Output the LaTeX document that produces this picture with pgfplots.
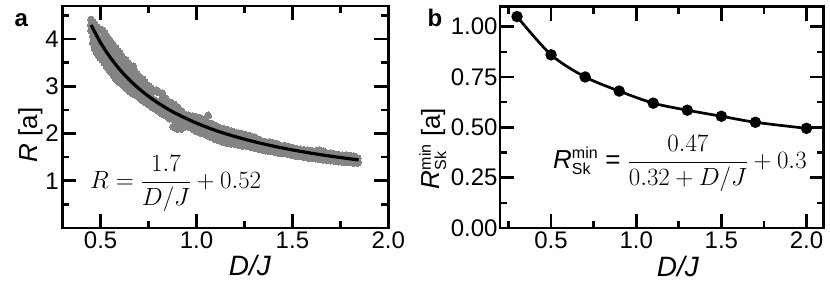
\documentclass[border=0pt]{standalone}
\usepackage{fontspec}
\setmainfont{Liberation Sans}
\usepackage{pgfplots}
\pgfplotsset{compat=1.18}
\definecolor{dotgray}{RGB}{132,132,132}
\pgfplotsset{
  myaxis/.style={
    scale only axis, anchor=south west, clip mode=individual,
    axis line style={line width=2.8pt},
    tick align=inside,
    major tick length=14pt, minor tick length=7pt,
    every tick/.style={line width=2.6pt, black},
    tick label style={font=\fontsize{24}{24}\selectfont},
    xlabel style={font=\fontsize{28}{28}\selectfont, anchor=base, inner sep=0pt},
    ylabel style={font=\fontsize{26}{26}\selectfont, anchor=base, inner sep=0pt},
  }
}
\begin{document}
\begin{tikzpicture}
\useasboundingbox (0pt,0pt) rectangle (830pt,282pt);
% ---------------- panel a
\begin{axis}[myaxis,
  at={(62.3pt,54pt)}, width=326pt, height=222pt,
  xmin=0.3, xmax=2.0, ymin=0, ymax=4.7,
  xtick={0.5,1,1.5,2}, xticklabels={0.5,1.0,1.5,2.0},
  minor xtick={0.75,1.25,1.75},
  ytick={1,2,3,4}, yticklabels={1,2,3,4},
  minor ytick={0.5,1.5,2.5,3.5,4.5},
  xlabel={\textit{D/J}},
  xlabel style={at={(axis description cs:0.576,-0.216)}},
  ylabel={\textit{R} [a]},
  ylabel style={at={(axis description cs:-0.0776,0.419)}},
]
\addplot[color=dotgray, only marks, mark=*, mark size=3.6pt, mark options={draw=dotgray, fill=dotgray, line width=0pt}] coordinates {
(0.45,4.41)(0.45,4.30)(0.45,4.18)
(0.46,4.36)(0.46,4.22)(0.46,4.06)(0.46,3.92)
(0.47,4.30)(0.47,4.14)(0.47,3.98)(0.47,3.80)
(0.48,4.25)(0.48,4.08)(0.48,3.90)(0.48,3.72)
(0.49,4.22)(0.49,4.02)(0.49,3.83)(0.49,3.66)
(0.50,4.20)(0.50,3.98)(0.50,3.78)(0.50,3.60)
(0.51,4.18)(0.51,3.95)(0.51,3.72)(0.51,3.56)
(0.52,4.12)(0.52,3.88)(0.52,3.68)(0.52,3.50)
(0.53,4.06)(0.53,3.84)(0.53,3.62)(0.53,3.44)
(0.54,4.00)(0.54,3.80)(0.54,3.56)(0.54,3.38)
(0.55,3.95)(0.55,3.72)(0.55,3.50)(0.55,3.32)
(0.56,3.90)(0.56,3.66)(0.56,3.45)(0.56,3.28)
(0.57,3.84)(0.57,3.62)(0.57,3.40)(0.57,3.22)
(0.58,3.80)(0.58,3.56)(0.58,3.35)(0.58,3.16)
(0.59,3.74)(0.59,3.50)(0.59,3.30)(0.59,3.12)
(0.60,3.70)(0.60,3.46)(0.60,3.24)(0.60,3.08)
(0.61,3.62)(0.61,3.42)(0.61,3.20)(0.61,3.05)
(0.62,3.58)(0.62,3.38)(0.62,3.16)(0.62,3.02)
(0.63,3.55)(0.63,3.33)(0.63,3.12)(0.63,2.98)
(0.64,3.50)(0.64,3.28)(0.64,3.08)(0.64,2.95)
(0.65,3.45)(0.65,3.24)(0.65,3.04)(0.65,2.90)
(0.66,3.40)(0.66,3.24)(0.66,3.06)(0.66,2.88)
(0.67,3.42)(0.67,3.20)(0.67,3.02)(0.67,2.85)
(0.68,3.30)(0.68,3.14)(0.68,2.98)(0.68,2.82)
(0.69,3.25)(0.69,3.10)(0.69,2.95)(0.69,2.80)
(0.70,3.20)(0.70,3.05)(0.70,2.92)(0.70,2.78)
(0.71,3.15)(0.71,3.00)(0.71,2.87)(0.71,2.74)
(0.72,3.15)(0.72,2.98)(0.72,2.84)(0.72,2.70)
(0.73,3.08)(0.73,2.88)(0.73,2.68)
(0.74,3.02)(0.74,2.84)(0.74,2.65)
(0.75,3.00)(0.75,2.80)(0.75,2.62)
(0.76,2.96)(0.76,2.78)(0.76,2.60)
(0.77,2.92)(0.77,2.74)(0.77,2.56)
(0.78,2.90)(0.78,2.70)(0.78,2.54)
(0.79,2.92)(0.79,2.68)(0.79,2.52)
(0.80,2.88)(0.80,2.66)(0.80,2.48)
(0.82,2.85)(0.82,2.70)(0.82,2.56)(0.82,2.42)
(0.84,2.74)(0.84,2.61)(0.84,2.49)(0.84,2.38)
(0.86,2.66)(0.86,2.54)(0.86,2.43)(0.86,2.32)
(0.88,2.62)(0.88,2.46)(0.88,2.30)(0.88,2.14)
(0.90,2.56)(0.90,2.42)(0.90,2.26)(0.90,2.10)
(0.92,2.48)(0.92,2.36)(0.92,2.22)(0.92,2.10)
(0.94,2.40)(0.94,2.28)(0.94,2.15)
(0.96,2.38)(0.96,2.25)(0.96,2.14)
(0.98,2.36)(0.98,2.22)(0.98,2.10)
(1.00,2.34)(1.00,2.20)(1.00,2.05)
(1.02,2.32)(1.02,2.18)(1.02,2.02)
(1.04,2.30)(1.04,2.15)(1.04,2.00)
(1.06,2.38)(1.06,2.22)(1.06,2.10)(1.06,1.96)
(1.08,2.20)(1.08,2.06)(1.08,1.92)
(1.10,2.16)(1.10,2.02)(1.10,1.88)
(1.12,2.12)(1.12,1.98)(1.12,1.85)
(1.14,2.10)(1.14,1.96)(1.14,1.82)
(1.16,2.08)(1.16,1.94)(1.16,1.80)
(1.18,2.05)(1.18,1.92)(1.18,1.79)
(1.20,2.02)(1.20,1.90)(1.20,1.78)
(1.22,2.00)(1.22,1.88)(1.22,1.76)
(1.24,1.98)(1.24,1.85)(1.24,1.74)
(1.26,1.96)(1.26,1.84)(1.26,1.74)
(1.28,1.95)(1.28,1.82)(1.28,1.72)
(1.30,1.92)(1.30,1.80)(1.30,1.70)
(1.32,1.88)(1.32,1.78)(1.32,1.68)
(1.34,1.84)(1.34,1.74)(1.34,1.66)
(1.36,1.82)(1.36,1.72)(1.36,1.64)
(1.38,1.82)(1.38,1.70)(1.38,1.63)
(1.40,1.80)(1.40,1.69)(1.40,1.62)
(1.42,1.78)(1.42,1.68)(1.42,1.60)
(1.44,1.74)(1.44,1.64)(1.44,1.58)
(1.46,1.74)(1.46,1.62)(1.46,1.58)
(1.48,1.72)(1.48,1.61)(1.48,1.56)
(1.50,1.70)(1.50,1.60)(1.50,1.54)
(1.52,1.68)(1.52,1.58)(1.52,1.52)
(1.54,1.66)(1.54,1.56)(1.54,1.52)
(1.56,1.65)(1.56,1.55)(1.56,1.50)
(1.58,1.64)(1.58,1.54)(1.58,1.49)
(1.60,1.63)(1.60,1.53)(1.60,1.48)
(1.62,1.62)(1.62,1.52)(1.62,1.47)
(1.64,1.64)(1.64,1.50)(1.64,1.46)
(1.66,1.62)(1.66,1.50)(1.66,1.45)
(1.68,1.58)(1.68,1.48)(1.68,1.44)
(1.70,1.58)(1.70,1.47)(1.70,1.43)
(1.72,1.56)(1.72,1.46)(1.72,1.42)
(1.74,1.55)(1.74,1.45)(1.74,1.41)
(1.76,1.54)(1.76,1.44)(1.76,1.40)
(1.78,1.54)(1.78,1.43)(1.78,1.40)
(1.80,1.53)(1.80,1.42)(1.80,1.39)
(1.82,1.52)(1.82,1.42)(1.82,1.38)
(1.84,1.48)(1.84,1.40)(1.84,1.38)
};
\addplot[black, line width=3.2pt, smooth, no marks] coordinates {
(0.45,4.298)(0.50,3.920)(0.55,3.611)(0.60,3.353)(0.65,3.135)(0.70,2.949)
(0.75,2.787)(0.80,2.645)(0.85,2.520)(0.90,2.409)(1.00,2.220)(1.10,2.065)
(1.20,1.937)(1.30,1.828)(1.40,1.734)(1.50,1.653)(1.60,1.583)(1.70,1.520)(1.845,1.441)
};
\end{axis}
% ---------------- panel b
\begin{axis}[myaxis,
  at={(500pt,54pt)}, width=323.5pt, height=221.5pt,
  xmin=0.2, xmax=2.1, ymin=0, ymax=1.1,
  xtick={0.5,1,1.5,2}, xticklabels={0.5,1.0,1.5,2.0},
  minor xtick={0.25,0.75,1.25,1.75},
  ytick={0,0.25,0.5,0.75,1}, yticklabels={0.00,0.25,0.50,0.75,1.00},
  minor ytick={0.125,0.375,0.625,0.875},
  yticklabel style={inner xsep=2.3pt},
  xlabel={\textit{D/J}},
  xlabel style={at={(axis description cs:0.55,-0.217)}},
  ylabel={\textit{R}$^{\mbox{\fontsize{16}{16}\selectfont min}}_{\mbox{\fontsize{16}{16}\selectfont Sk}}$ [a]},
  ylabel style={at={(axis description cs:-0.1855,0.359)}},
]
\addplot[black, line width=2.7pt, smooth, mark=*, mark size=4.3pt] coordinates {
(0.3,1.05)(0.5,0.86)(0.7,0.75)(0.9,0.68)(1.1,0.62)(1.3,0.585)(1.5,0.555)(1.7,0.525)(2.0,0.495)
};
\end{axis}
% equations and panel letters
\node[anchor=base west, inner sep=0pt, font=\fontsize{25}{25}\selectfont] at (90pt,94pt)
  {$\displaystyle R = \frac{1.7}{D/J} + 0.52$};
\node[anchor=base west, inner sep=0pt] at (553pt,114pt)
  {\fontsize{26}{26}\selectfont\textit{R}$^{\mbox{\fontsize{16}{16}\selectfont min}}_{\mbox{\fontsize{16}{16}\selectfont Sk}}$\hspace{7pt}= {\fontsize{25}{25}\selectfont$\displaystyle\frac{0.47}{0.32 + D/J} + 0.3$}};
\node[anchor=base west, inner sep=0pt, font=\fontsize{24}{24}\selectfont\bfseries] at (14.5pt,255pt) {a};
\node[anchor=base west, inner sep=0pt, font=\fontsize{24}{24}\selectfont\bfseries] at (427.5pt,255pt) {b};
\end{tikzpicture}
\end{document}
